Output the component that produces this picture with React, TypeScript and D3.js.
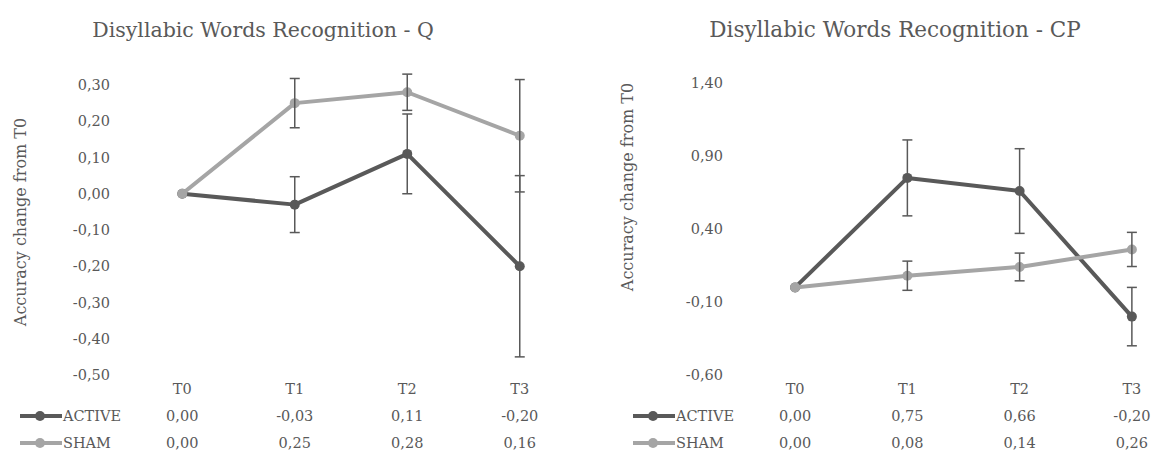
import React, { useEffect, useRef } from "react";
import * as d3 from "d3";

// categories and values
const categories = ["T0", "T1", "T2", "T3"];

const qActive = [0.0, -0.03, 0.11, -0.2];
const qSham = [0.0, 0.25, 0.28, 0.16];
const qActiveErr = [0, 0.077, 0.11, 0.25];
const qShamErr = [0, 0.068, 0.05, 0.155];
const qTicks = [0.3, 0.2, 0.1, 0.0, -0.1, -0.2, -0.3, -0.4, -0.5];

const cpActive = [0.0, 0.75, 0.66, -0.2];
const cpSham = [0.0, 0.08, 0.14, 0.26];
const cpActiveErr = [0, 0.26, 0.29, 0.2];
const cpShamErr = [0, 0.1, 0.095, 0.117];
const cpTicks = [1.4, 0.9, 0.4, -0.1, -0.6];

const seriesNames = ["ACTIVE", "SHAM"];
const seriesColors = ["#595959", "#a5a5a5"];

const FONT = "DejaVu Serif, Liberation Serif, serif";
const TEXT = "#595959";

const fmt = d3.formatLocale({
  decimal: ",",
  thousands: ".",
  grouping: [3],
  currency: ["", ""],
  minus: "-",
}).format(".2f");

type PanelProps = {
  title: string;
  titleSize: number;
  active: number[];
  sham: number[];
  activeErr: number[];
  shamErr: number[];
  ticks: number[];
  titleX: number;
  labelX: number;
  labelY: number;
  tickX: number;
  xRange: [number, number];
  yTop: number;
  yBottom: number;
  legendX: number;
};

const drawPanel = (root: d3.Selection<SVGSVGElement, unknown, null, undefined>, p: PanelProps) => {
  const g = root.append("g");
  const x = d3.scalePoint<string>().domain(categories).range(p.xRange).padding(0.5);
  const y = d3
    .scaleLinear()
    .domain([p.ticks[p.ticks.length - 1], p.ticks[0]])
    .range([p.yBottom, p.yTop]);

  g.append("text")
    .attr("x", p.titleX)
    .attr("y", 37)
    .attr("text-anchor", "middle")
    .attr("font-family", FONT)
    .attr("font-size", p.titleSize)
    .attr("fill", TEXT)
    .text(p.title);

  g.append("text")
    .attr("transform", `translate(${p.labelX},${p.labelY}) rotate(-90)`)
    .attr("text-anchor", "middle")
    .attr("dy", "0.35em")
    .attr("font-family", FONT)
    .attr("font-size", 16)
    .attr("fill", TEXT)
    .text("Accuracy change from T0");

  g.selectAll(".tick")
    .data(p.ticks)
    .enter()
    .append("text")
    .attr("class", "tick")
    .attr("x", p.tickX)
    .attr("y", (d) => y(d))
    .attr("dy", "0.35em")
    .attr("text-anchor", "end")
    .attr("font-family", FONT)
    .attr("font-size", 14.5)
    .attr("fill", TEXT)
    .text((d) => fmt(d));

  const series = [
    { name: seriesNames[0], values: p.active, err: p.activeErr, color: seriesColors[0] },
    { name: seriesNames[1], values: p.sham, err: p.shamErr, color: seriesColors[1] },
  ];

  const line = d3
    .line<number>()
    .x((_, i) => x(categories[i]) as number)
    .y((d) => y(d));

  series.forEach((s) => {
    g.append("path")
      .attr("d", line(s.values))
      .attr("fill", "none")
      .attr("stroke", s.color)
      .attr("stroke-width", 4)
      .attr("stroke-linejoin", "round");
    g.selectAll(null)
      .data(s.values)
      .enter()
      .append("circle")
      .attr("cx", (_, i) => x(categories[i]) as number)
      .attr("cy", (d) => y(d))
      .attr("r", 5)
      .attr("fill", s.color);
  });

  // error bars
  series.forEach((s) => {
    s.values.forEach((v, i) => {
      if (!s.err[i]) return;
      const cx = x(categories[i]) as number;
      const y1 = y(v + s.err[i]);
      const y2 = y(v - s.err[i]);
      g.append("line")
        .attr("x1", cx).attr("x2", cx)
        .attr("y1", y1).attr("y2", y2)
        .attr("stroke", "#595959").attr("stroke-width", 1.5);
      [y1, y2].forEach((yy) => {
        g.append("line")
          .attr("x1", cx - 5).attr("x2", cx + 5)
          .attr("y1", yy).attr("y2", yy)
          .attr("stroke", "#595959").attr("stroke-width", 1.5);
      });
    });
  });

  // data table under the chart
  const rowY = [389, 416, 443];
  g.selectAll(".cat")
    .data(categories)
    .enter()
    .append("text")
    .attr("class", "cat")
    .attr("x", (d) => x(d) as number)
    .attr("y", rowY[0])
    .attr("dy", "0.35em")
    .attr("text-anchor", "middle")
    .attr("font-family", FONT)
    .attr("font-size", 14.5)
    .attr("fill", TEXT)
    .text((d) => d);

  series.forEach((s, si) => {
    const ry = rowY[si + 1];
    g.append("line")
      .attr("x1", p.legendX).attr("x2", p.legendX + 42)
      .attr("y1", ry).attr("y2", ry)
      .attr("stroke", s.color).attr("stroke-width", 4);
    g.append("circle")
      .attr("cx", p.legendX + 20).attr("cy", ry).attr("r", 5)
      .attr("fill", s.color);
    g.append("text")
      .attr("x", p.legendX + 43)
      .attr("y", ry)
      .attr("dy", "0.35em")
      .attr("font-family", FONT)
      .attr("font-size", 14.5)
      .attr("fill", TEXT)
      .text(s.name);
    g.selectAll(null)
      .data(s.values)
      .enter()
      .append("text")
      .attr("x", (_, i) => x(categories[i]) as number)
      .attr("y", ry)
      .attr("dy", "0.35em")
      .attr("text-anchor", "middle")
      .attr("font-family", FONT)
      .attr("font-size", 14.5)
      .attr("fill", TEXT)
      .text((d) => fmt(d));
  });
};

const App = () => {
  const ref = useRef<SVGSVGElement>(null);

  useEffect(() => {
    document.body.style.margin = "0";
    const svg = d3.select(ref.current) as d3.Selection<SVGSVGElement, unknown, null, undefined>;
    svg.selectAll("*").remove();

    drawPanel(svg, {
      title: "Disyllabic Words Recognition - Q",
      titleSize: 20.5,
      active: qActive,
      sham: qSham,
      activeErr: qActiveErr,
      shamErr: qShamErr,
      ticks: qTicks,
      titleX: 263,
      labelX: 20,
      labelY: 222,
      tickX: 110,
      xRange: [126, 576],
      yTop: 85,
      yBottom: 375,
      legendX: 20,
    });

    drawPanel(svg, {
      title: "Disyllabic Words Recognition - CP",
      titleSize: 21.5,
      active: cpActive,
      sham: cpSham,
      activeErr: cpActiveErr,
      shamErr: cpShamErr,
      ticks: cpTicks,
      titleX: 895,
      labelX: 627,
      labelY: 187,
      tickX: 723,
      xRange: [739, 1188],
      yTop: 83,
      yBottom: 375,
      legendX: 633,
    });
  }, []);

  return <svg ref={ref} width={1155} height={452} style={{ display: "block", background: "#fff" }} />;
};

export default App;
